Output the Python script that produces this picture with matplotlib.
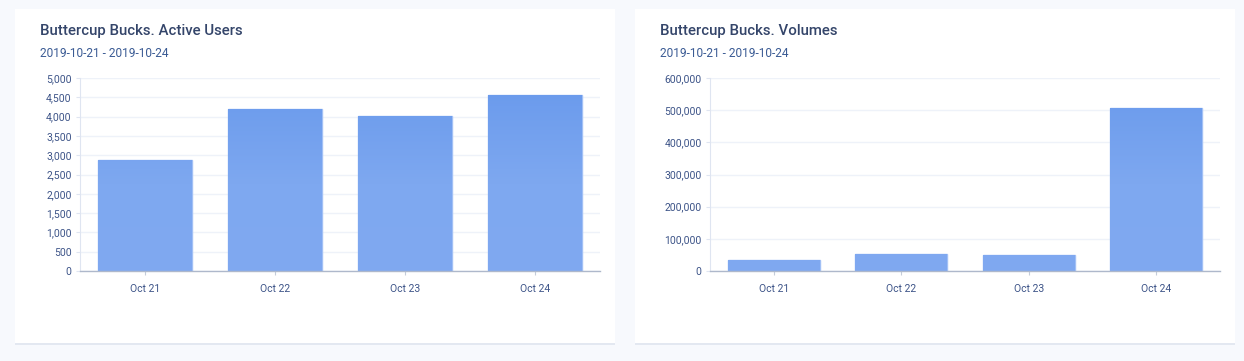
import numpy as np
import matplotlib.pyplot as plt
from matplotlib.patches import Rectangle
from matplotlib.colors import LinearSegmentedColormap
from matplotlib.ticker import FuncFormatter, MultipleLocator

days = ["Oct 21", "Oct 22", "Oct 23", "Oct 24"]
active_users = [2880, 4190, 4010, 4560]
volumes = [34000, 53000, 50000, 508000]

titles = ["Buttercup Bucks. Active Users", "Buttercup Bucks. Volumes"]
subtitle = "2019-10-21 - 2019-10-24"

W, H = 1244, 361
BG = "#f7f9fd"
TITLE_C = "#34456a"
SUB_C = "#3b5b94"
TICK_C = "#3d5488"
GRID_C = "#eef2f9"

plt.rcParams["font.family"] = ["Roboto", "DejaVu Sans"]

fig = plt.figure(figsize=(W / 100, H / 100), dpi=100, facecolor=BG)


def px(x0, y0, x1, y1):
    # pixel box (top-left origin) -> figure fraction rect
    return [x0 / W, 1 - y1 / H, (x1 - x0) / W, (y1 - y0) / H]


def card(x0, y0, x1, y1):
    bg = fig.add_axes(px(x0, y0, x1, y1 + 1.5), zorder=0)
    bg.axis("off")
    bg.add_patch(Rectangle((0, 0), 1, 1, transform=bg.transAxes,
                           facecolor="#e3e8f1", edgecolor="none"))
    fg = fig.add_axes(px(x0, y0, x1, y1), zorder=0.5)
    fg.axis("off")
    fg.add_patch(Rectangle((0, 0), 1, 1, transform=fg.transAxes,
                           facecolor="white", edgecolor="none"))


# light in the lower half, darker towards the top of the plot
grad = np.linspace(0, 1, 256).reshape(-1, 1)
cmap = LinearSegmentedColormap.from_list(
    "bar", [(0, "#80a9f1"), (0.45, "#7ea8f0"), (1, "#6899ec")])


def draw(rect, vals, ymax, step, fmt):
    ax = fig.add_axes(rect, zorder=1)
    ax.set_facecolor("white")
    x = np.arange(len(vals))
    bars = ax.bar(x, vals, width=0.72, color="#7ca6ef",
                  edgecolor="#a2c0f5", linewidth=1.0, zorder=2)
    for b in bars:
        x0 = b.get_x()
        im = ax.imshow(grad, cmap=cmap, origin="lower", aspect="auto",
                       extent=(x0, x0 + b.get_width(), 0, ymax), zorder=2.5)
        im.set_clip_path(b)
    ax.set_xlim(-0.5, len(vals) - 0.5)
    ax.set_ylim(0, ymax)
    ax.yaxis.set_major_locator(MultipleLocator(step))
    ax.yaxis.set_major_formatter(FuncFormatter(fmt))
    ax.set_xticks(x)
    ax.set_xticklabels(days)
    ax.grid(axis="y", color=GRID_C, linewidth=1.0, zorder=0)
    ax.set_axisbelow(True)
    for s in ["top", "right"]:
        ax.spines[s].set_visible(False)
    ax.spines["left"].set_color("#dfe5f1")
    ax.spines["bottom"].set_color("#aeb8cb")
    ax.spines["bottom"].set_linewidth(1.0)
    ax.tick_params(axis="y", length=3, color="#dfe5f1", labelsize=7.5,
                   labelcolor=TICK_C, pad=3)
    ax.tick_params(axis="x", length=3, color="#c4ccda", labelsize=7.5,
                   labelcolor=TICK_C, pad=6)
    return ax


card(15, 9, 615, 343)
card(635, 9, 1235, 343)

draw(px(80, 78, 600, 271), active_users, 5000, 500,
     lambda v, p: f"{int(v):,}")
draw(px(710, 78, 1220, 271), volumes, 600000, 100000,
     lambda v, p: f"{int(v):,}")

for xt, t in zip([40, 660], titles):
    fig.text(xt / W, 1 - 31.5 / H, t, fontsize=10.8, weight="medium",
             color=TITLE_C, va="center", ha="left", zorder=3)
    fig.text(xt / W, 1 - 53.5 / H, subtitle, fontsize=8.6,
             color=SUB_C, va="center", ha="left", zorder=3)

fig.savefig("out.png", dpi=100, facecolor=BG)
